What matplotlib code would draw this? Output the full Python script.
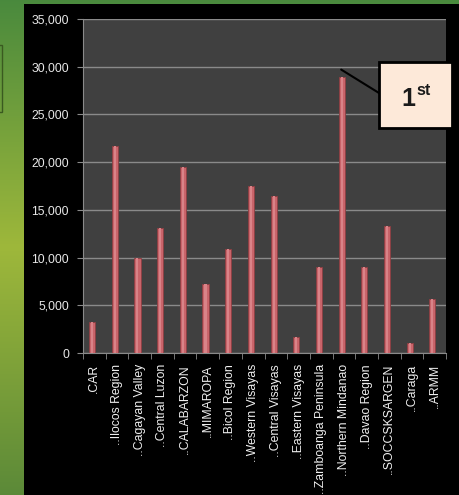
import numpy as np
import matplotlib.pyplot as plt
from matplotlib.patches import Rectangle

# === Data ===
regions = ['.CAR', '..Ilocos Region', '..Cagayan Valley', '..Central Luzon',
           '..CALABARZON', '..MIMAROPA', '..Bicol Region', '..Western Visayas',
           '..Central Visayas', '..Eastern Visayas', '..Zamboanga Peninsula',
           '..Northern Mindanao', '..Davao Region', '..SOCCSKSARGEN',
           '..Caraga', '..ARMM']
values = [3300, 21700, 10000, 13100, 19500, 7200, 10900, 17500,
          16400, 1700, 9000, 28900, 9000, 13300, 1000, 5700]
yticks = [0, 5000, 10000, 15000, 20000, 25000, 30000, 35000]
ytick_labels = ['0', '5,000', '10,000', '15,000', '20,000', '25,000', '30,000', '35,000']

W, H = 459, 495
plt.rcParams['font.family'] = ['Liberation Sans', 'DejaVu Sans']

fig = plt.figure(figsize=(W / 100, H / 100), dpi=100)

# === Background: green gradient + black panel ===
bg = fig.add_axes([0, 0, 1, 1], zorder=-10)
t = np.linspace(0, 1, 256)
top = np.array([0.29, 0.54, 0.24])
mid = np.array([0.62, 0.72, 0.23])
bot = np.array([0.36, 0.54, 0.22])
col = np.where(t[:, None] < 0.5,
               top + (mid - top) * (t[:, None] / 0.5),
               mid + (bot - mid) * ((t[:, None] - 0.5) / 0.5))
bg.imshow(np.repeat(col[:, None, :], 4, axis=1), aspect='auto',
          extent=[0, 1, 0, 1], origin='upper')
bg.add_patch(Rectangle((24 / W, 0), 1 - 24 / W, 1 - 4 / H,
                       facecolor='black', edgecolor='none'))
bg.add_patch(Rectangle((-0.01, 1 - 112 / H), 0.01 + 1.5 / W, 67 / H,
                       facecolor='none', edgecolor='#3a5a20', linewidth=1))
bg.set_xlim(0, 1)
bg.set_ylim(0, 1)
bg.axis('off')

# === Chart ===
ax = fig.add_axes([83 / W, 1 - 353 / H, (446 - 83) / W, (353 - 19) / H])
ax.set_facecolor('#404040')
x = np.arange(len(regions))
ax.bar(x - 0.1, values, width=0.27, color='#C9646A', edgecolor='#8E3E42',
       linewidth=0.6, zorder=3)
ax.bar(x - 0.1, values, width=0.09, color='#D98388', edgecolor='none', zorder=4)

ax.set_xlim(-0.5, len(regions) - 0.5)
ax.set_ylim(0, 35000)
ax.set_yticks(yticks)
ax.set_yticklabels(ytick_labels)
ax.yaxis.grid(True, color='#8a8a8a', linewidth=1, zorder=1)
ax.set_xticks(x)
ax.set_xticklabels(regions, rotation=90)
ax.set_xticks(np.arange(-0.5, len(regions)), minor=True)
ax.tick_params(axis='x', which='major', length=0, pad=8, colors='#f0f0f0', labelsize=8.8)
ax.tick_params(axis='x', which='minor', length=4, color='#8a8a8a')
ax.tick_params(axis='y', length=4, color='#8a8a8a', labelcolor='#e8e8e8', labelsize=8.8, pad=6)
for side in ['top', 'right']:
    ax.spines[side].set_visible(False)
for side in ['left', 'bottom']:
    ax.spines[side].set_color('#8a8a8a')

# === Callout for the top region ===
best = int(np.argmax(values))
bx0, by0, bx1, by1 = 379, 62, 452, 128
box_y = 1 - by1 / H
fig.patches.append(Rectangle((bx0 / W, box_y), (bx1 - bx0) / W, (by1 - by0) / H,
                             transform=fig.transFigure, facecolor='#FDE9D9',
                             edgecolor='black', linewidth=2, zorder=10))
ax.annotate('', xy=(best - 0.12, values[best] + 800),
            xytext=(bx0 / W, 1 - 93 / H), textcoords='figure fraction',
            arrowprops=dict(arrowstyle='-', color='black', linewidth=1.5,
                            shrinkA=0, shrinkB=0),
            zorder=9, annotation_clip=False)
fig.text(415 / W, 1 - 106 / H, '1', fontsize=18, fontweight='bold',
         ha='right', va='baseline', color='#1a1a1a', zorder=11)
fig.text(416 / W, 1 - 95 / H, 'st', fontsize=11.5, fontweight='bold',
         ha='left', va='baseline', color='#1a1a1a', zorder=11)

fig.savefig('out.png', dpi=100)
